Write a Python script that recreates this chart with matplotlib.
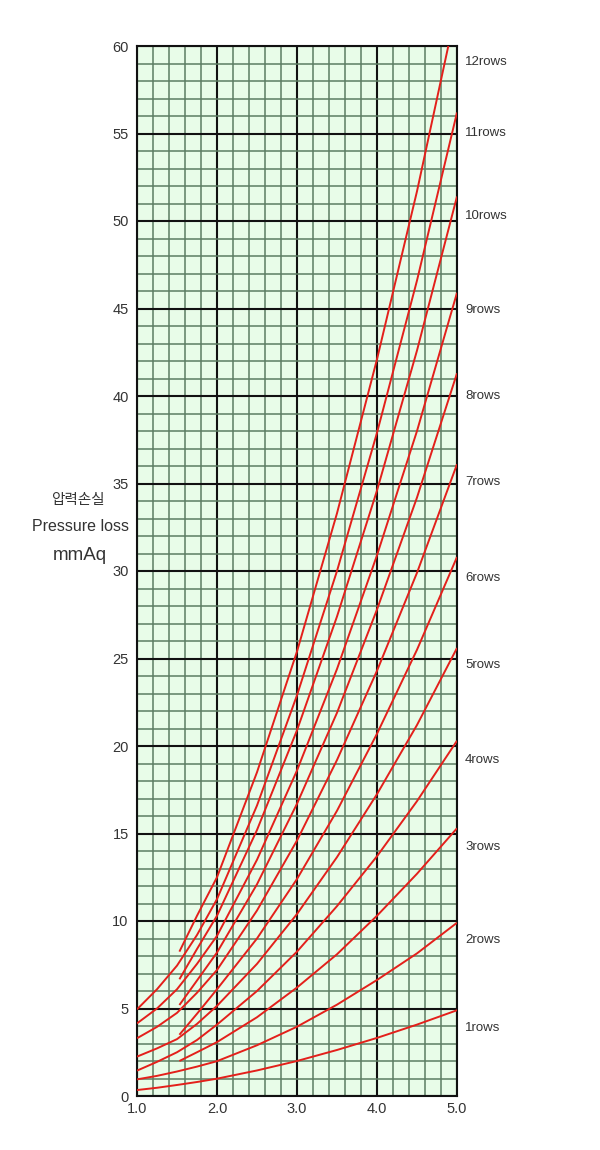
import matplotlib
matplotlib.use("Agg")
import matplotlib.pyplot as plt
from matplotlib.ticker import MultipleLocator

# ---------------- data ----------------
# curves that start at the left edge (1.0 m/s)
velocity_full = [1.0, 1.25, 1.5, 1.75, 2.0, 2.5, 3.0, 3.5, 4.0, 4.5, 5.0]
# curves that start at about 1.53 m/s
velocity_short = [1.53, 1.75, 2.0, 2.5, 3.0, 3.5, 4.0, 4.5, 5.0]

rows_1 = [0.34, 0.47, 0.63, 0.80, 0.99, 1.46, 2.00, 2.63, 3.32, 4.08, 4.90]
rows_2 = [0.95, 1.15, 1.40, 1.68, 1.99, 2.90, 3.96, 5.22, 6.63, 8.15, 9.90]
rows_3 = [2.00, 2.50, 3.08, 4.50, 6.20, 8.10, 10.30, 12.70, 15.3]
rows_4 = [1.45, 1.95, 2.50, 3.20, 4.08, 6.00, 8.25, 10.85, 13.70, 16.85, 20.3]
rows_5 = [2.25, 2.72, 3.25, 4.12, 5.15, 7.55, 10.40, 13.65, 17.25, 21.20, 25.6]
rows_6 = [3.50, 4.70, 6.10, 9.00, 12.40, 16.30, 20.70, 25.50, 30.8]
rows_7 = [3.30, 3.95, 4.75, 5.90, 7.20, 10.60, 14.60, 19.20, 24.30, 29.90, 36.1]
rows_8 = [5.20, 6.60, 8.20, 12.10, 16.70, 21.90, 27.80, 34.20, 41.3]
rows_9 = [4.15, 5.00, 6.10, 7.55, 9.15, 13.50, 18.60, 24.40, 30.90, 38.00, 45.9]
rows_10 = [6.67, 8.40, 10.30, 15.20, 20.90, 27.40, 34.60, 42.60, 51.4]
rows_11 = [4.95, 6.10, 7.45, 9.20, 11.25, 16.60, 22.90, 30.00, 37.90, 46.60, 56.2]
rows_12 = [8.25, 10.30, 12.50, 18.50, 25.40, 33.30, 42.10, 51.70, 62.3]

series = [rows_1, rows_2, rows_3, rows_4, rows_5, rows_6,
          rows_7, rows_8, rows_9, rows_10, rows_11, rows_12]

row_labels = ["1rows", "2rows", "3rows", "4rows", "5rows", "6rows",
              "7rows", "8rows", "9rows", "10rows", "11rows", "12rows"]
row_label_y = [3.9, 8.9, 14.2, 19.2, 24.6, 29.6, 35.1, 40.0, 44.9, 50.3, 55.0, 59.1]

x_ticks = [1.0, 2.0, 3.0, 4.0, 5.0]
x_tick_labels = ["1.0", "2.0", "3.0", "4.0", "5.0"]
y_ticks = list(range(0, 61, 5))

# ---------------- figure ----------------
FONT = ["Liberation Sans Narrow", "Liberation Sans", "DejaVu Sans"]
KFONT = ["Noto Sans CJK KR", "DejaVu Sans"]

fig = plt.figure(figsize=(6.0, 11.5), dpi=100)
ax = fig.add_axes([137 / 600, 54 / 1150, 320 / 600, 1050 / 1150])
ax.set_facecolor("#e8fce8")

ax.set_xlim(1.0, 5.0)
ax.set_ylim(0, 60)

ax.xaxis.set_minor_locator(MultipleLocator(0.2))
ax.yaxis.set_minor_locator(MultipleLocator(1))
ax.set_xticks(x_ticks)
ax.set_xticklabels(x_tick_labels, fontfamily=FONT, fontsize=10.5, color="#333333")
ax.set_yticks(y_ticks)
ax.set_yticklabels([str(v) for v in y_ticks], fontfamily=FONT, fontsize=10.5, color="#333333")
ax.tick_params(which="both", length=0)
ax.tick_params(axis="y", pad=6)
ax.tick_params(axis="x", pad=4)

ax.grid(which="minor", color="#5c7d62", linewidth=1.1, zorder=0)
ax.grid(which="major", color="#111111", linewidth=1.5, zorder=0)
ax.set_axisbelow(True)
for sp in ax.spines.values():
    sp.set_color("#111111")
    sp.set_linewidth(1.5)

for vals in series:
    xs = velocity_full if len(vals) == len(velocity_full) else velocity_short
    ax.plot(xs, vals, color="#e3201b", linewidth=1.4, solid_capstyle="butt",
            solid_joinstyle="round", zorder=3)

for lab, yv in zip(row_labels, row_label_y):
    ax.text(1.025, yv, lab, transform=ax.get_yaxis_transform(), ha="left", va="center",
            fontfamily=FONT, fontsize=9.5, color="#333333")

fig.text(78 / 600, 1 - 500 / 1150, "압력손실", ha="center", va="center",
         fontfamily=KFONT, fontsize=10.5, color="#333333")
fig.text(81 / 600, 1 - 526 / 1150, "Pressure loss", ha="center", va="center",
         fontfamily=FONT, fontsize=11.5, color="#333333")
fig.text(80 / 600, 1 - 556 / 1150, "mmAq", ha="center", va="center",
         fontfamily=FONT, fontsize=13.5, color="#333333")

fig.savefig("out.png", dpi=100, facecolor="white")
